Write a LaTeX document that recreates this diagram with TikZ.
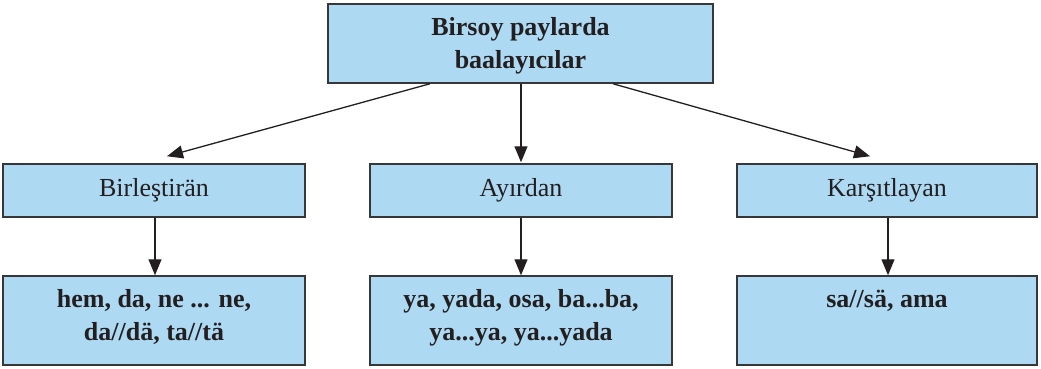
\documentclass[tikz,border=0pt]{standalone}
\usepackage{fontspec}
\setmainfont{Liberation Serif}
\usetikzlibrary{arrows.meta}
\definecolor{boxfill}{RGB}{173,217,243}
\definecolor{boxline}{RGB}{55,55,58}
\definecolor{ink}{RGB}{35,31,32}
\tikzset{
  box/.style={draw=boxline, line width=1.5pt, fill=boxfill, rectangle, inner sep=0pt},
  label/.style={text=ink, font=\fontsize{26}{33}\selectfont, align=center, inner sep=0pt},
  boldlabel/.style={label, font=\fontsize{26}{33}\selectfont\bfseries},
  arr/.style={draw=ink, line width=1.3pt, -{Triangle[length=16pt,width=13pt]}},
}
\begin{document}
\begin{tikzpicture}[x=1pt, y=-1pt]
\useasboundingbox (0,0) rectangle (1041,368);

% head box
\node[box, minimum width=385pt, minimum height=79pt] (top) at (520.5,43.5) {};
\node[boldlabel, anchor=base] (toptxt) at (520.5,68)
  {Birsoy paylarda\\baalayıcılar};

% middle row
\node[box, minimum width=302pt, minimum height=53pt] (m1) at (154,190.5) {};
\node[box, minimum width=302pt, minimum height=53pt] (m2) at (521,190.5) {};
\node[box, minimum width=300pt, minimum height=53pt] (m3) at (887,190.5) {};
\node[label, anchor=base] (m1t) at (154,196) {Birleştirän};
\node[label, anchor=base] (m2t) at (521,196) {Ayırdan};
\node[label, anchor=base] (m3t) at (887,196) {Karşıtlayan};

% bottom row
\node[box, minimum width=302pt, minimum height=89pt] (b1) at (154,320.5) {};
\node[box, minimum width=302pt, minimum height=89pt] (b2) at (521,320.5) {};
\node[box, minimum width=300pt, minimum height=89pt] (b3) at (887,320.5) {};
\node[boldlabel, anchor=base] (b1t) at (154,340)
  {hem, da, ne ... ne,\\da//dä, ta//tä};
\node[boldlabel, anchor=base] (b2t) at (521,340)
  {ya, yada, osa, ba...ba,\\ya...ya, ya...yada};
\node[boldlabel, anchor=base] (b3t) at (887,307)
  {sa//sä, ama};

% connectors
\coordinate (e1) at ([xshift=13pt, yshift=7pt]m1.north);
\coordinate (e3) at ([xshift=-17pt, yshift=7pt]m3.north);
\draw[arr] ([xshift=-90.5pt]top.south) -- (e1);
\draw[arr, shorten >=1pt] (top.south -| m2.north) -- (m2.north);
\draw[arr] ([xshift=92.5pt]top.south) -- (e3);
\draw[arr] ([xshift=1pt]m1.south) -- ([xshift=1pt]b1.north);
\draw[arr] (m2.south) -- (b2.north);
\draw[arr] ([xshift=1pt]m3.south) -- ([xshift=1pt]b3.north);
\end{tikzpicture}
\end{document}
